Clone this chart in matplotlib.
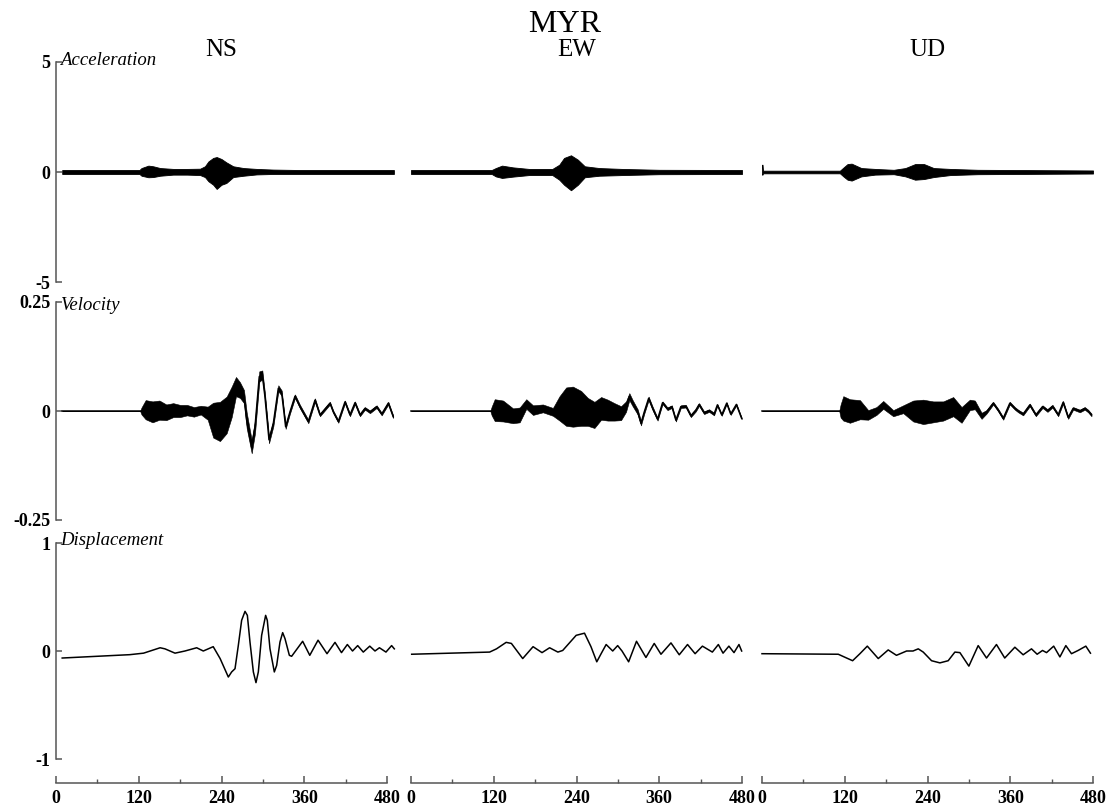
import matplotlib
matplotlib.use('Agg')
import matplotlib.pyplot as plt
from matplotlib.ticker import MultipleLocator

plt.rcParams['font.family'] = 'Liberation Serif'
plt.rcParams['axes.unicode_minus'] = False

station = 'MYR'
components = ['NS', 'EW', 'UD']
quantities = ['Acceleration', 'Velocity', 'Displacement']
y_limits = [5, 0.25, 1]
y_ticks = [[5, 0, -5], [0.25, 0, -0.25], [1, 0, -1]]
y_ticklabels = [['5', '0', '-5'], ['0.25', '0', '-0.25'], ['1', '0', '-1']]
x_ticks = [0, 120, 240, 360, 480]

# acceleration: envelope of the trace (time s, upper, lower)
acc_ns = [(9, .09, -.09), (121, .09, -.09), (124, .18, -.17), (134, .29, -.24), (141, .26, -.23),
          (151, .18, -.17), (170, .14, -.12), (190, .14, -.12), (209, .15, -.14), (216, .26, -.23),
          (221, .48, -.42), (228, .64, -.58), (233, .68, -.77), (240, .59, -.58), (247, .44, -.5),
          (257, .26, -.23), (272, .18, -.17), (291, .14, -.11), (315, .11, -.09), (354, .09, -.09),
          (490, .09, -.09)]
acc_ew = [(0, .09, -.09), (117, .09, -.09), (123, .18, -.2), (132, .29, -.27), (148, .21, -.21),
          (171, .14, -.14), (205, .14, -.14), (215, .33, -.35), (222, .64, -.58), (232, .76, -.83),
          (242, .56, -.58), (252, .26, -.24), (273, .18, -.17), (306, .14, -.14), (360, .1, -.1),
          (480, .09, -.09)]
acc_ud = [(0, .33, -.12), (0.8, .33, -.12), (1.5, .06, -.06), (113, .06, -.06), (118, .2, -.2),
          (124, .36, -.35), (130, .38, -.39), (144, .18, -.2), (164, .14, -.12), (191, .1, -.1),
          (208, .18, -.2), (222, .36, -.35), (235, .36, -.32), (249, .18, -.23), (273, .14, -.14),
          (313, .1, -.1), (480, .07, -.07)]

# velocity: (time s, trace, half width of the high-frequency part)
vel_ns = [(9, 0, 0), (122, 0, 0), (124, 0, .008), (130, .003, .022), (140, -.002, .024), (150, .002, .022),
          (160, -.003, .018), (170, .002, .016), (180, 0, .014), (190, .002, .012), (200, -.002, .011),
          (210, .002, .01), (220, -.005, .015), (228, -.021, .04), (237.8, -.024, .045), (247.5, -.009, .042),
          (254.8, .021, .035), (261, .056, .022), (266.8, .048, .018), (272.6, .033, .015), (276.5, -.021, .018),
          (283.8, -.082, .015), (288.6, -.036, .015), (294.8, .079, .012), (299.2, .083, .01), (303, .033, .008),
          (308.9, -.066, .008), (315.2, -.028, .007), (322.4, .052, .007), (327.3, .041, .006), (333, -.036, .005),
          (339.3, -.002, .004), (346.6, .034, .004), (353.8, .01, .004), (365.9, -.024, .004), (375.6, .025, .004),
          (382.8, -.009, .003), (397.3, .018, .003), (402.1, -.002, .003), (409.4, -.024, .003), (419.1, .021, .003),
          (426.3, -.009, .003), (433.6, .019, .003), (440.8, -.009, .003), (448, .006, .003), (455.3, -.002, .003),
          (465, .01, .003), (472.3, -.007, .003), (481.9, .018, .003), (489, -.013, .003)]
vel_ew = [(0, 0, 0), (115, 0, 0), (117, 0, .01), (121.4, .002, .025), (133.5, 0, .024), (148, -.011, .017),
          (157.6, -.009, .017), (167.2, .016, .011), (176.9, .002, .011), (191.3, .006, .009), (205.8, -.002, .009),
          (215.4, .006, .028), (225, .01, .044), (234.7, .01, .046), (246.7, .006, .04), (256.4, -.002, .032),
          (266, -.009, .03), (275.7, .006, .026), (285.3, .002, .024), (295, -.002, .02), (304.6, -.005, .016),
          (311.8, .01, .012), (316.6, .033, .008), (321.4, .018, .007), (328.7, -.002, .006), (333.5, -.028, .005),
          (338.3, -.002, .004), (344.6, .029, .004), (350.4, .006, .004), (357.6, -.019, .003), (364.8, .019, .003),
          (372, .005, .003), (378.3, .01, .003), (384.1, -.021, .003), (391.3, .01, .003), (398.6, .011, .003),
          (405.8, -.011, .003), (413, .002, .003), (417.8, .015, .003), (425, -.004, .003), (432.3, .001, .003),
          (439.5, -.007, .003), (444.3, .014, .002), (450.6, -.009, .002), (457.8, .018, .002), (463.6, -.007, .002),
          (471.8, .015, .002), (479.5, -.017, .002)]
vel_ud = [(0, 0, 0), (112, 0, 0), (114, 0, .015), (117.9, .006, .028), (127.5, 0, .027), (142, .003, .022),
          (154, -.009, .011), (166, 0, .009), (175.8, .014, .009), (190.3, -.005, .007), (204.8, .004, .009),
          (219.3, 0, .024), (233.8, -.002, .028), (248.3, -.002, .024), (262.8, 0, .022), (277.3, .01, .022),
          (289.4, -.009, .018), (301.4, .014, .012), (308.7, .014, .01), (318.4, -.011, .007), (325.6, -.002, .004),
          (335.3, .018, .003), (342.5, .002, .003), (349.8, -.017, .003), (359.4, .018, .003), (366.7, .006, .003),
          (371.5, 0, .003), (378.7, -.007, .003), (388.4, .014, .003), (397.1, -.009, .003), (406.8, .01, .003),
          (414, .001, .003), (421.3, .011, .003), (429.5, -.009, .003), (436.7, .02, .003), (444, -.015, .003),
          (451.2, .006, .003), (460.9, 0, .003), (468.1, .006, .003), (472.9, 0, .003), (477.8, -.009, .003)]

# displacement: (time s, value)
disp_ns = [(9, -.065), (107, -.034), (127, -.02), (151, .03), (158, .02), (172.6, -.02), (187, 0), (204, .03),
           (213.6, 0), (228, .04), (238, -.07), (249.9, -.241), (254.7, -.194), (259.6, -.164), (264.4, .052),
           (269.2, .284), (274.1, .367), (277.5, .33), (281.3, .083), (286.2, -.194), (290, -.293), (293.4, -.194),
           (298.2, .145), (304, .33), (306.4, .284), (310.3, .021), (316.6, -.194), (320, -.133), (324.8, .083),
           (328.7, .17), (332.1, .114), (338.4, -.04), (341.7, -.049), (357.7, .09), (368, -.04), (380, .1),
           (393, -.025), (404.6, .08), (414, -.015), (422.5, .06), (430, 0), (437.5, .05), (445.6, -.01),
           (455, .045), (462.6, 0), (469, .03), (478.5, -.01), (486.7, .05), (490.6, .02)]
disp_ew = [(1, -.03), (114, -.01), (124, .02), (138, .08), (145.6, .07), (162, -.07), (177, .04), (190, -.015),
           (201, .03), (213, -.01), (220, .005), (239.5, .145), (251.6, .165), (261, .04), (269.4, -.1),
           (275.7, -.025), (283, .06), (292.5, 0), (299.7, .05), (306, 0), (315.6, -.1), (327, .09), (340.7, -.06),
           (352.7, .07), (362.5, -.03), (377, .075), (389, -.035), (401, .06), (412, -.025), (422.6, .045),
           (437, -.01), (445.7, .06), (452.5, -.02), (461, .045), (468.4, -.015), (475.6, .06), (479.5, 0)]
disp_ud = [(0, -.025), (110.6, -.03), (122.7, -.065), (131.4, -.09), (142, -.025), (152.7, .045), (168.6, -.07),
           (183, .01), (195, -.04), (209.7, 0), (219, 0), (226.6, .02), (233.8, -.01), (245.9, -.09), (258, -.11),
           (270, -.09), (279.7, -.01), (287, -.015), (300, -.14), (313.5, .05), (325.6, -.065), (340, .06),
           (352, -.065), (366.7, .035), (378.7, -.035), (390.8, .02), (399, -.03), (406.8, .005), (412.6, -.015),
           (423, .045), (432, -.055), (440.6, .05), (448.8, -.025), (458.4, .005), (469.6, .045), (476.3, -.02)]

acc_data = [acc_ns, acc_ew, acc_ud]
vel_data = [vel_ns, vel_ew, vel_ud]
disp_data = [disp_ns, disp_ew, disp_ud]

# layout in pixels
W, H = 1111, 805
col_left = [56, 411, 762]
col_width = 331
row_top = [62, 302, 543]
row_height = [220, 218, 216]
label_base = [65, 310, 545]
axis_grey = '#555555'

fig = plt.figure(figsize=(W / 100, H / 100), dpi=100)

for r in range(3):
    for c in range(3):
        ax = fig.add_axes([col_left[c] / W, 1 - (row_top[r] + row_height[r]) / H,
                           col_width / W, row_height[r] / H])
        ax.set_xlim(0, 480)
        ax.set_ylim(-y_limits[r], y_limits[r])
        ax.patch.set_visible(False)
        for s in ['top', 'right']:
            ax.spines[s].set_visible(False)
        for s in ['left', 'bottom']:
            ax.spines[s].set_color(axis_grey)
            ax.spines[s].set_linewidth(1.1)

        if r == 0:
            t = [p[0] for p in acc_data[c]]
            up = [p[1] for p in acc_data[c]]
            lo = [p[2] for p in acc_data[c]]
            ax.fill_between(t, lo, up, color='black', lw=0.6, clip_on=False)
        elif r == 1:
            t = [p[0] for p in vel_data[c]]
            v = [p[1] for p in vel_data[c]]
            w = [p[2] for p in vel_data[c]]
            ax.fill_between(t, [a - b for a, b in zip(v, w)], [a + b for a, b in zip(v, w)],
                            color='black', lw=0.4, clip_on=False)
            ax.plot(t, v, color='black', lw=1.1, clip_on=False, solid_joinstyle='round')
        else:
            t = [p[0] for p in disp_data[c]]
            v = [p[1] for p in disp_data[c]]
            ax.plot(t, v, color='black', lw=1.1, clip_on=False, solid_joinstyle='round')

        if c == 0:
            ax.set_yticks(y_ticks[r])
            ax.set_yticklabels(y_ticklabels[r], fontweight='bold', fontsize=13)
            ax.tick_params(axis='y', direction='in', length=4, width=1.1, color=axis_grey, pad=4)
        else:
            ax.spines['left'].set_visible(False)
            ax.set_yticks([])

        if r == 2:
            ax.spines['bottom'].set_position(('outward', 17))
            ax.set_xticks(x_ticks)
            ax.set_xticklabels([str(x) for x in x_ticks], fontweight='bold', fontsize=13)
            ax.xaxis.set_minor_locator(MultipleLocator(60))
            ax.tick_params(axis='x', which='major', direction='in', length=5, width=1.1,
                           color=axis_grey, pad=5)
            ax.tick_params(axis='x', which='minor', direction='in', length=3, width=1.0,
                           color=axis_grey)
        else:
            ax.spines['bottom'].set_visible(False)
            ax.set_xticks([])

    fig.text(60 / W, 1 - label_base[r] / H, quantities[r], fontsize=13.5, style='italic',
             ha='left', va='baseline')

for c in range(3):
    fig.text((col_left[c] + col_width / 2) / W, 1 - 56 / H, components[c], fontsize=18,
             ha='center', va='baseline')

fig.text(565 / W, 1 - 32 / H, station, fontsize=23, ha='center', va='baseline')

fig.savefig('out.png', dpi=100)
